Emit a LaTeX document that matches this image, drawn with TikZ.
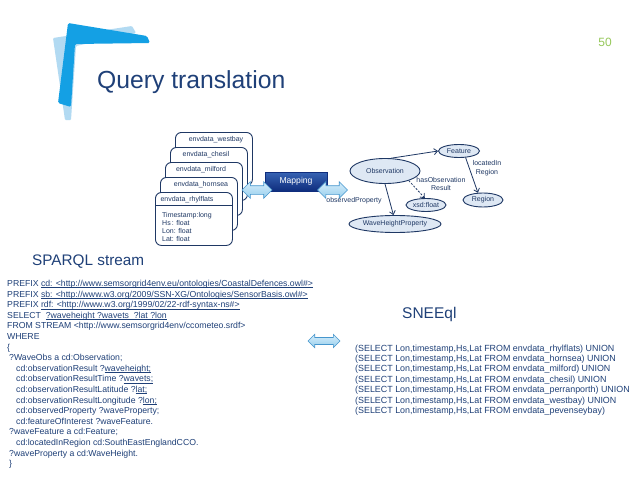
\documentclass[tikz,border=0pt]{standalone}
\usepackage{fontspec}
\setmainfont{Liberation Sans}
\usetikzlibrary{shapes.geometric,shapes.arrows,arrows.meta,shadows}
\definecolor{txt}{RGB}{31,64,120}
\definecolor{navy}{RGB}{31,56,100}
\definecolor{logodark}{RGB}{20,160,228}
\definecolor{logolight}{RGB}{178,218,242}
\definecolor{ellfill}{RGB}{222,232,244}
\definecolor{arrfillA}{RGB}{214,238,251}
\definecolor{arrfillB}{RGB}{150,205,236}
\definecolor{arredge}{RGB}{70,150,205}
\definecolor{mapA}{RGB}{55,100,180}
\definecolor{mapB}{RGB}{15,45,125}
\definecolor{pagenum}{RGB}{150,200,90}
\newcommand\myfs[2]{\fontsize{#1}{#2}\selectfont}
\newcommand\myul[1]{\setbox0\hbox{#1}\rlap{\rule[-1.3pt]{\wd0}{0.5pt}}\box0}
\tikzset{
  code/.style={anchor=base west, inner sep=0pt, text=txt, font=\myfs{8.7}{10}},
  sneecode/.style={anchor=base west, inner sep=0pt, text=txt, font=\myfs{8.9}{10}},
  tbl/.style={draw=navy, line width=0.9pt, fill=white, rounded corners=6pt, anchor=north west, minimum width=77pt, minimum height=53pt, inner sep=0pt},
  tblhead/.style={inner sep=0pt, text=navy, font=\myfs{7}{8}},
  field/.style={anchor=base west, inner sep=0pt, text=navy, font=\myfs{7}{8}},
  ell/.style={ellipse, draw=navy, fill=ellfill, line width=0.9pt, inner sep=0pt, text=navy, font=\myfs{7}{8}},
  lbl/.style={inner sep=0pt, text=navy, font=\myfs{7}{8}, align=center},
  arr/.style={draw=navy, line width=0.8pt, -{Straight Barb[length=3.5pt,width=6pt]}},
  dblarr/.style={double arrow, draw=arredge, line width=0.6pt, top color=arrfillA, bottom color=arrfillB, inner xsep=0pt, inner ysep=4pt, double arrow head extend=4pt},
  mapbox/.style={rectangle, top color=mapA, bottom color=mapB, draw=mapB, line width=0.4pt, text=white, font=\myfs{8.6}{10}, minimum width=62pt, minimum height=19pt, inner sep=0pt, drop shadow={opacity=0.3, shadow xshift=1pt, shadow yshift=-1pt}},
  heading/.style={anchor=base west, inner sep=0pt, text=txt}
}
\begin{document}
\begin{tikzpicture}[x=1pt,y=-1pt]
\useasboundingbox[fill=white] (0,0) rectangle (638,479);

% logo
\fill[logolight, rounded corners=1pt] (53,38) -- (132,26) -- (136,33) -- (76,46) -- (71,120) -- (65,120) -- cycle;
\fill[logodark, rounded corners=1.5pt] (68,23) -- (147,36) -- (150,43) -- (75,44) -- (71,107) -- (58,103) -- cycle;

% title and page number
\node[heading, font=\myfs{24.7}{28}] (title) at (97,88) {Query translation};
\node[inner sep=0pt, text=pagenum, font=\myfs{12}{14}] (page) at (605,42) {50};

% stacked tables
\node[tbl] (tw) at (175,132) {};
\node[tblhead] (twh) at (216,139.5) {envdata\_westbay};
\node[tbl] (tc) at (170,147) {};
\node[tblhead] (tch) at (206,154.5) {envdata\_chesil};
\node[tbl] (tm) at (165,162) {};
\node[tblhead] (tmh) at (201,169.5) {envdata\_milford};
\node[tbl] (th) at (160,177) {};
\node[tblhead] (thh) at (201,184.5) {envdata\_hornsea};
\node[tbl] (tr) at (155,192) {};
\node[tblhead] (trh) at (187,199.5) {envdata\_rhylflats};
\draw[navy, line width=0.9pt] (tr.west |- 0,205.5) coordinate (sepL) -- (tr.east |- 0,205.5) coordinate (sepR);
\node[field] (f1) at (162,217.5) {Timestamp:long};
\node[field] (f2) at (162,225.5) {Hs\,: float};
\node[field] (f3) at (162,233.5) {Lon: float};
\node[field] (f4) at (162,241.5) {Lat: float};

% mapping
\node[mapbox] (map) at (296,181.5) {Mapping};
\node[dblarr, minimum height=30pt] (arrL) at (257,190) {};
\node[dblarr, minimum height=30pt] (arrR) at (332.5,190) {};
\node[lbl] (obsprop) at (354,201) {observedProperty};

% ontology graph
\node[ell, minimum width=70pt, minimum height=25pt] (obs) at (385,171) {Observation};
\node[ell, minimum width=41pt, minimum height=13pt] (feat) at (459,151) {Feature};
\node[ell, minimum width=40pt, minimum height=14pt] (reg) at (483,200) {Region};
\node[ell, minimum width=40pt, minimum height=13pt] (xsd) at (426,205) {xsd:float};
\node[ell, minimum width=92pt, minimum height=17pt] (whp) at (395,224) {WaveHeightProperty};
\node[lbl] (lreg) at (487,168.5) {locatedIn\\[1pt]Region};
\node[lbl] (lres) at (441,184) {hasObservation\\Result};
\draw[arr] (obs.65) -- (feat.west);
\draw[arr] (feat.-45) -- (reg.125);
\draw[arr, dash pattern=on 2pt off 1.5pt] (obs.-22) -- (xsd.100);
\draw[arr] (obs.south) -- (whp.100);

% SPARQL stream
\node[heading, font=\myfs{15.3}{18}] (sparqlh) at (32,265.5) {SPARQL stream};
\node[code] (c0) at (7,286.5) {PREFIX \myul{cd: <http://www.semsorgrid4env.eu/ontologies/CoastalDefences.owl\#>}};
\node[code] (c1) at (7,297.1) {PREFIX \myul{sb: <http://www.w3.org/2009/SSN-XG/Ontologies/SensorBasis.owl\#>}};
\node[code] (c2) at (7,307.7) {PREFIX \myul{rdf: <http://www.w3.org/1999/02/22-rdf-syntax-ns\#>}};
\node[code] (c3) at (7,318.3) {SELECT\ \ \myul{?waveheight ?wavets\ \ ?lat ?lon}};
\node[code] (c4) at (7,328.9) {FROM STREAM <http://www.semsorgrid4env/ccometeo.srdf>};
\node[code] (c5) at (7,339.5) {WHERE};
\node[code] (c6) at (7,350.1) {\{};
\node[code] (c7) at (9,360.7) {?WaveObs a cd:Observation;};
\node[code] (c8) at (16,371.3) {cd:observationResult ?\myul{waveheight;}};
\node[code] (c9) at (16,381.9) {cd:observationResultTime ?\myul{wavets;}};
\node[code] (c10) at (16,392.5) {cd:observationResultLatitude ?\myul{lat;}};
\node[code] (c11) at (16,403.1) {cd:observationResultLongitude ?\myul{lon;}};
\node[code] (c12) at (16,413.7) {cd:observedProperty ?waveProperty;};
\node[code] (c13) at (16,424.3) {cd:featureOfInterest ?waveFeature.};
\node[code] (c14) at (9,434.9) {?waveFeature a cd:Feature;};
\node[code] (c15) at (16,445.5) {cd:locatedInRegion cd:SouthEastEnglandCCO.};
\node[code] (c16) at (9,456.1) {?waveProperty a cd:WaveHeight.};
\node[code] (c17) at (9,466.7) {\}};

% middle arrow
\node[dblarr, minimum height=32pt, inner ysep=3.2pt, double arrow head extend=3.2pt] (arrM) at (324,341) {};

% SNEEql
\node[heading, font=\myfs{15.5}{18}] (sneeh) at (402,318.5) {SNEEql};
\node[sneecode] (s0) at (355,351) {(SELECT Lon,timestamp,Hs,Lat FROM envdata\_rhylflats) UNION};
\node[sneecode] (s1) at (355,361.4) {(SELECT Lon,timestamp,Hs,Lat FROM envdata\_hornsea) UNION};
\node[sneecode] (s2) at (355,371.8) {(SELECT Lon,timestamp,Hs,Lat FROM envdata\_milford) UNION};
\node[sneecode] (s3) at (355,382.2) {(SELECT Lon,timestamp,Hs,Lat FROM envdata\_chesil) UNION};
\node[sneecode] (s4) at (355,392.6) {(SELECT Lon,timestamp,Hs,Lat FROM envdata\_perranporth) UNION};
\node[sneecode] (s5) at (355,403.0) {(SELECT Lon,timestamp,Hs,Lat FROM envdata\_westbay) UNION};
\node[sneecode] (s6) at (355,413.4) {(SELECT Lon,timestamp,Hs,Lat FROM envdata\_pevenseybay)};
\end{tikzpicture}
\end{document}
